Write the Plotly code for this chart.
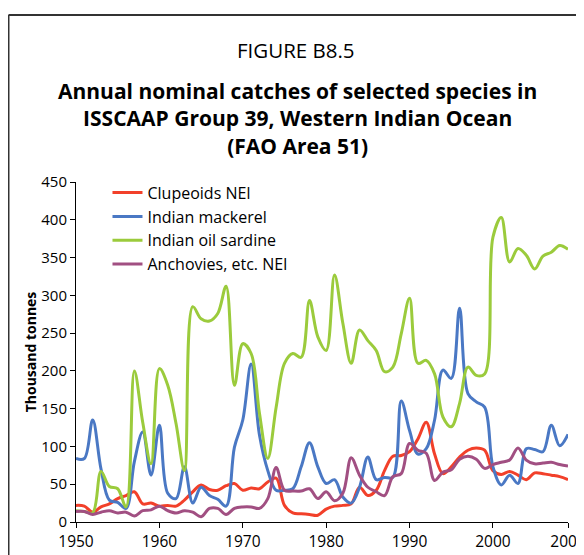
import plotly.graph_objects as go

years = list(range(1950, 2010))

clupeoids = [22, 21, 13, 20, 24, 31, 35, 40, 24, 25,
             21, 22, 21, 29, 40, 49, 43, 42, 48, 51,
             42, 45, 44, 53, 58, 22, 12, 11, 10, 9,
             17, 21, 22, 24, 46, 35, 42, 68, 87, 88,
             93, 110, 132, 90, 64, 73, 86, 95, 98, 95,
             68, 63, 67, 62, 56, 65, 64, 62, 60, 56]

mackerel = [84, 84, 135, 70, 29, 26, 18, 80, 119, 62,
            128, 38, 31, 73, 25, 46, 35, 30, 21, 99,
            135, 209, 115, 68, 42, 42, 44, 73, 105, 73,
            51, 56, 33, 25, 46, 86, 56, 59, 59, 160,
            121, 90, 97, 135, 201, 190, 283, 170, 159, 152,
            73, 49, 62, 51, 97, 96, 93, 128, 101, 116]

sardine = [15, 14, 12, 67, 47, 44, 20, 200, 132, 77,
           203, 181, 130, 68, 285, 269, 266, 276, 312, 181,
           236, 223, 144, 84, 152, 210, 223, 218, 293, 245,
           227, 327, 263, 210, 254, 240, 227, 199, 205, 249,
           296, 210, 214, 196, 139, 126, 157, 205, 194, 196,
           377, 403, 344, 362, 353, 335, 352, 357, 366, 361]

anchovies = [14, 14, 10, 13, 15, 12, 13, 8, 15, 16,
             21, 15, 12, 15, 13, 7, 18, 18, 10, 18,
             20, 20, 18, 31, 72, 42, 41, 41, 44, 31,
             40, 28, 38, 85, 62, 46, 40, 35, 60, 64,
             104, 95, 91, 55, 66, 69, 83, 87, 83, 71,
             76, 79, 82, 98, 82, 77, 78, 79, 76, 74]

series = [
    ("Clupeoids NEI", clupeoids, "#F2402A"),
    ("Indian mackerel", mackerel, "#4A78C4"),
    ("Indian oil sardine", sardine, "#9BCB3C"),
    ("Anchovies, etc. NEI", anchovies, "#A14F82"),
]

x_tickvals = [1950, 1960, 1970, 1980, 1990, 2000, 2009]
y_tickvals = [0, 50, 100, 150, 200, 250, 300, 350, 400, 450]

FONT = "Open Sans"

fig = go.Figure()
for name, vals, col in series:
    fig.add_trace(go.Scatter(
        x=years, y=vals, name=name, mode="lines",
        line=dict(color=col, width=3, shape="spline", smoothing=1.0),
    ))

fig.update_layout(
    width=584, height=555,
    margin=dict(l=68, r=24, t=174, b=41, autoexpand=False),
    paper_bgcolor="white", plot_bgcolor="white",
    font=dict(family=FONT, size=16, color="black"),
    showlegend=True,
    legend=dict(x=0.064, y=1.0185, xanchor="left", yanchor="top",
                font=dict(family=FONT, size=16, color="black"),
                bgcolor="rgba(0,0,0,0)", itemwidth=30),
    xaxis=dict(range=[1950, 2009], tickvals=x_tickvals,
               ticktext=[str(v) for v in x_tickvals],
               showgrid=False, zeroline=False, showline=True,
               linecolor="black", linewidth=1, ticks="outside",
               ticklen=5, tickcolor="black", automargin=False,
               ticklabeloverflow="allow",
               tickfont=dict(family=FONT, size=15.5)),
    yaxis=dict(range=[0, 450], tickvals=y_tickvals,
               showgrid=False, zeroline=False, showline=True,
               linecolor="black", linewidth=1, ticks="outside",
               ticklen=5, tickcolor="black", automargin=False,
               tickfont=dict(family=FONT, size=15),
               title=dict(text="<b>Thousand tonnes</b>", standoff=1,
                          font=dict(family=FONT, size=14))),
)

# frame around the figure: left and top edges
fig.add_shape(type="line", xref="paper", yref="paper",
              x0=-0.1372, x1=-0.1372, y0=-0.2, y1=1.4912,
              line=dict(color="#333333", width=2), layer="above")
fig.add_shape(type="line", xref="paper", yref="paper",
              x0=-0.1372, x1=1.1, y0=1.4912, y1=1.4912,
              line=dict(color="#333333", width=2), layer="above")

fig.add_annotation(text="FIGURE B8.5", xref="paper", yref="paper",
                   x=(296 - 76) / 492, y=(521.7 - 50) / 340,
                   showarrow=False, xanchor="center", yanchor="middle",
                   font=dict(family=FONT, size=20.5, color="black"))
fig.add_annotation(text="<b>Annual nominal catches of selected species in<br>"
                        "ISSCAAP Group 39, Western Indian Ocean<br>"
                        "(FAO Area 51)</b>",
                   xref="paper", yref="paper",
                   x=(297 - 76) / 492, y=(521.7 - 118) / 340,
                   showarrow=False, xanchor="center", yanchor="middle",
                   align="center",
                   font=dict(family=FONT, size=21, color="black"))

fig.write_html("out.html")
